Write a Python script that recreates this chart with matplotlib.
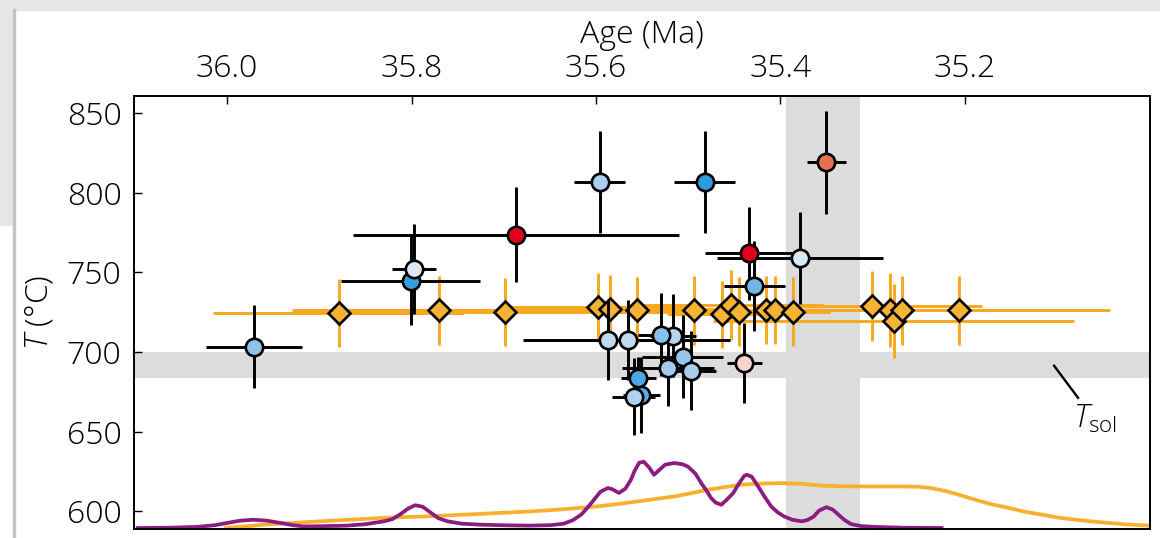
import matplotlib.pyplot as plt
from matplotlib.patches import Rectangle
from matplotlib.lines import Line2D

plt.rcParams['font.family'] = ['Open Sans', 'DejaVu Sans']
plt.rcParams['font.weight'] = 'light'
plt.rcParams['axes.labelweight'] = 'light'
plt.rcParams['mathtext.fontset'] = 'custom'
plt.rcParams['mathtext.rm'] = 'Open Sans:light'
plt.rcParams['mathtext.it'] = 'Open Sans:italic:light'

# circles: age (Ma), T (degC), errors, fill colour
circ_age = [35.971, 35.801, 35.797, 35.687, 35.596, 35.482, 35.350, 35.434,
            35.428, 35.379, 35.587, 35.565, 35.551, 35.554, 35.559, 35.516,
            35.529, 35.522, 35.506, 35.497, 35.439]
circ_T = [703.3, 744.7, 752.2, 773.7, 806.6, 806.6, 819.1, 762.0,
          741.5, 758.9, 707.7, 707.7, 673.2, 683.7, 672.1, 710.4,
          710.8, 689.9, 697.2, 688.4, 693.1]
circ_age_err = [0.052, 0.075, 0.024, 0.177, 0.028, 0.033, 0.021, 0.048,
                0.033, 0.090, 0.092, 0.110, 0.020, 0.019, 0.023, 0.025,
                0.025, 0.050, 0.044, 0.027, 0.019]
circ_T_err = [26, 28, 28, 30, 32, 32, 32.5, 29,
              28, 29, 25, 25, 24, 13, 24, 26,
              26, 24, 26, 25, 25]
circ_color = ['#8ec4ea', '#35a0e0', '#dfe9f4', '#e3001b', '#a8cff0', '#2d9be0',
              '#e9704f', '#e3001b', '#73b6e6', '#dae7f4', '#c0daf1', '#c0daf1',
              '#5aaee5', '#4ca8e2', '#b0d1ee', '#b6d5ef', '#86c0ea', '#a2cbee',
              '#96c6ec', '#a8cdee', '#f6d6c8']

# diamonds
dia_age = [35.879, 35.770, 35.699, 35.598, 35.585, 35.555, 35.494, 35.463, 35.454,
           35.445, 35.416, 35.406, 35.386, 35.301, 35.281, 35.277, 35.268, 35.206]
dia_T = [724.4, 726.1, 725.2, 728.4, 727.1, 726.1, 726.1, 723.8, 729.4,
         725.4, 726.5, 726.5, 725.4, 729.0, 726.5, 719.6, 726.1, 726.1]
dia_age_err = [0.136, 0.16, 0.20, 0.10, 0.12, 0.08, 0.10, 0.06, 0.10,
               0.05, 0.04, 0.06, 0.04, 0.12, 0.03, 0.196, 0.226, 0.03]
dia_T_err = [21.5, 21.5, 21.5, 21.5, 21, 21, 21.5, 21, 22,
             21.5, 21.5, 21.5, 21.5, 22, 23, 23, 21.5, 21.5]

# probability curves along the bottom
purple_age = [36.097, 36.062, 36.033, 36.013, 36.000, 35.986, 35.972, 35.958, 35.942,
              35.929, 35.917, 35.893, 35.870, 35.850, 35.830, 35.821, 35.812, 35.804,
              35.796, 35.788, 35.779, 35.771, 35.761, 35.745, 35.725, 35.698, 35.671,
              35.649, 35.635, 35.625, 35.616, 35.609, 35.602, 35.595, 35.587, 35.582,
              35.575, 35.568, 35.562, 35.558, 35.553, 35.548, 35.542, 35.537, 35.531,
              35.525, 35.515, 35.506, 35.500, 35.492, 35.486, 35.480, 35.475, 35.470,
              35.464, 35.458, 35.451, 35.445, 35.439, 35.436, 35.431, 35.424, 35.417,
              35.410, 35.403, 35.396, 35.387, 35.377, 35.371, 35.364, 35.358, 35.350,
              35.343, 35.337, 35.330, 35.323, 35.312, 35.298, 35.268, 35.225]
purple_T = [589.6, 589.8, 590.3, 591.4, 592.8, 594.2, 594.8, 594.3, 592.8,
            591.4, 590.6, 590.8, 591.1, 592.0, 593.8, 595.1, 598.3, 601.7,
            603.9, 603.0, 599.2, 595.8, 593.8, 592.3, 591.7, 591.3, 591.1,
            591.4, 592.3, 594.5, 598.0, 602.4, 607.4, 612.4, 614.7, 613.9,
            611.6, 614.3, 619.9, 625.5, 630.6, 631.2, 627.4, 623.0, 626.2,
            629.3, 630.4, 629.6, 628.1, 623.7, 618.0, 613.0, 608.4, 605.5,
            604.2, 607.4, 611.6, 617.4, 622.4, 623.0, 621.8, 615.7, 609.2,
            603.2, 599.5, 596.9, 594.8, 593.8, 594.5, 596.7, 600.5, 602.7,
            601.1, 598.0, 594.5, 592.0, 590.8, 590.3, 589.8, 589.6]
orange_age = [36.001, 35.980, 35.961, 35.925, 35.888, 35.852, 35.816, 35.779, 35.743,
              35.707, 35.671, 35.635, 35.598, 35.573, 35.551, 35.533, 35.515, 35.497,
              35.479, 35.461, 35.442, 35.421, 35.399, 35.377, 35.352, 35.323, 35.297,
              35.274, 35.250, 35.236, 35.220, 35.203, 35.189, 35.171, 35.152, 35.135,
              35.116, 35.099, 35.080, 35.062, 35.044, 35.023, 35.000, 34.986]
orange_T = [589.8, 590.6, 591.7, 592.9, 594.2, 595.3, 596.3, 597.0, 598.0,
            599.0, 600.0, 601.4, 603.2, 604.9, 606.6, 608.0, 609.4, 611.4,
            613.6, 615.2, 616.8, 617.5, 617.8, 617.3, 616.1, 615.7, 615.7,
            615.7, 615.5, 614.6, 612.7, 609.9, 607.4, 604.5, 602.2, 599.8,
            598.0, 596.2, 594.8, 593.7, 592.8, 591.8, 591.1, 590.7]

age_ticks = [36.0, 35.8, 35.6, 35.4, 35.2]
T_ticks = [600, 650, 700, 750, 800, 850]

FS = 23

fig = plt.figure(figsize=(11.6, 5.38), dpi=100)
W, H = 1160, 538

# window chrome around the figure
fig.add_artist(Rectangle((0, 1 - 10 / H), 1, 10 / H, transform=fig.transFigure,
                         color='#e6e6e6', zorder=-5))
fig.add_artist(Rectangle((0, 1 - 225 / H), 13 / W, 225 / H, transform=fig.transFigure,
                         color='#e6e6e6', zorder=-5))
fig.add_artist(Line2D([14 / W, 14 / W], [0, 1 - 10 / H], transform=fig.transFigure,
                      color='#c4c4c4', lw=2.5, zorder=-4))

ax = fig.add_axes([134 / W, 1 - 528.5 / H, 1016 / W, 432.5 / H])

ax.axvspan(35.3935, 35.314, color='#dcdcdc', lw=0, zorder=0)
ax.axhspan(683.9, 700.2, color='#dcdcdc', lw=0, zorder=0)

ax.plot(orange_age, orange_T, color='#f8b02e', lw=2.7, zorder=1)
ax.plot(purple_age, purple_T, color='#8c1c80', lw=2.7, zorder=1.1)

ax.errorbar(dia_age, dia_T, xerr=dia_age_err, yerr=dia_T_err, fmt='D', ms=11.5,
            mfc='#f6b233', mec='k', mew=1.9, ecolor='#f8a81c', elinewidth=2.1,
            capsize=0, zorder=2)

for a, t, ae, te, c in zip(circ_age, circ_T, circ_age_err, circ_T_err, circ_color):
    ax.errorbar(a, t, xerr=ae, yerr=te, fmt='o', ms=12.5, mfc=c, mec='k', mew=1.9,
                ecolor='k', elinewidth=2.1, capsize=0, zorder=3)

# solidus label
ax.plot([35.103, 35.077], [691.4, 671.3], color='k', lw=1.7, zorder=4)
ax.text(35.083, 652.5, r'$T_{\rm sol}$', fontsize=FS, ha='left', va='baseline')

ax.set_xlim(36.101, 34.999)
ax.set_ylim(589.3, 860.7)
ax.xaxis.tick_top()
ax.xaxis.set_label_position('top')
ax.set_xticks(age_ticks)
ax.set_xticklabels([f'{v:.1f}' for v in age_ticks])
ax.set_yticks(T_ticks)
ax.tick_params(direction='in', length=6, width=1, labelsize=FS)
ax.tick_params(axis='x', pad=8)
ax.tick_params(axis='y', pad=9)
ax.set_xlabel('Age (Ma)', fontsize=FS, labelpad=7)
ax.set_ylabel(r'$T$ (°C)', fontsize=FS, labelpad=8)
for s in ax.spines.values():
    s.set_linewidth(1.4)

fig.savefig('out.png', dpi=100)
